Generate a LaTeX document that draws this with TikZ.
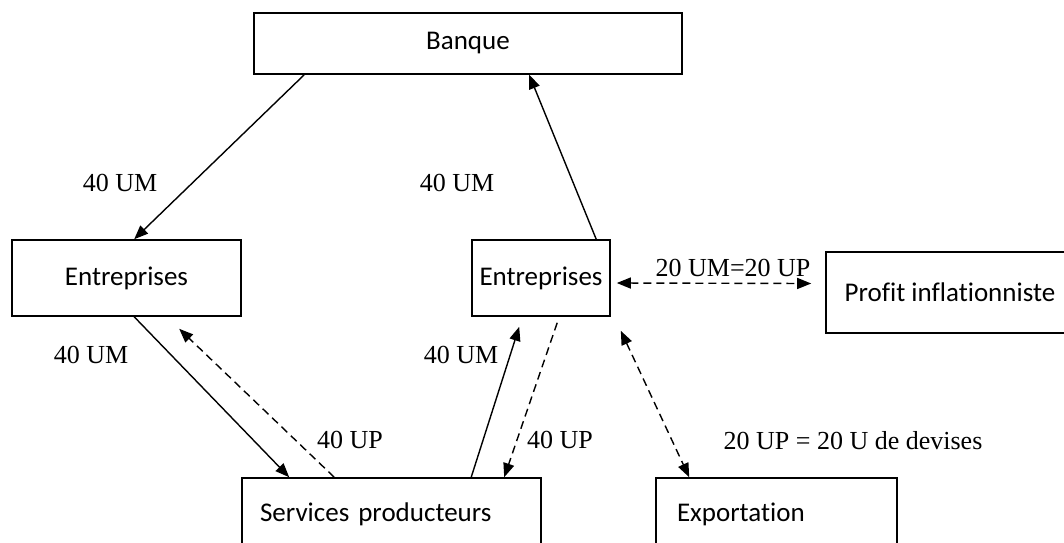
\documentclass[tikz,border=0pt]{standalone}
\usepackage{fontspec}
\setmainfont{Liberation Serif}
\newfontfamily\boxfont[Ligatures={NoCommon}]{Carlito}
\usetikzlibrary{
	positioning,
	calc,
	arrows.meta
}

\begin{document}
\begin{tikzpicture}[
		x=0.5pt, y=-0.5pt,
		line width=0.7pt,
		>={Triangle[length=7pt, width=5.5pt]},
		box/.style={draw, line width=0.8pt, font=\boxfont\fontsize{13.5}{16}\selectfont, inner sep=0pt},
		lbl/.style={font=\fontsize{13}{15}\selectfont, inner sep=0pt},
		flow/.style={dashed, dash pattern=on 4pt off 2.5pt}
		]
		\useasboundingbox (0,0) rectangle (1064,542);
		
		\node[box, minimum width=214pt, minimum height=30.5pt] (banque) at (468,43.5) {Banque};
		\node[box, minimum width=114.5pt, minimum height=38pt] (entL) at (126.5,278) {Entreprises};
		\node[box, minimum width=69pt, minimum height=38pt] (entR) at (541,278) {Entreprises};
		\node[box, minimum width=124pt, minimum height=40.5pt] (profit) at (950,292.5) {Profit inflationniste};
		\node[box, minimum width=149.5pt, minimum height=36pt, inner xsep=9pt, text width=131.5pt, align=left] (services) at (391.5,514) {Services producteurs};
		\node[box, minimum width=120.5pt, minimum height=36pt, inner xsep=10.5pt, text width=99.5pt, align=left] (export) at (776.5,514) {Exportation};
		
		\path ($(banque.south west)+(51,0)$) edge[->] ($(entL.north west)+(123,0)$);
		\path ($(entR.north west)+(125,0)$) edge[->] ($(banque.south west)+(276,0)$);
		\path ($(entL.south west)+(123,0)$) edge[->] ($(services.north west)+(48,0)$);
		\path ($(services.north west)+(93,0)$) edge[->, flow] ($(entL.south west)+(168,12)$);
		\path ($(services.north west)+(230,0)$) edge[->] ($(entR.south west)+(48,10)$);
		\path ($(entR.south west)+(86,6)$) edge[->, flow] ($(services.north west)+(263,0)$);
		\path ($(entR.east)+(6,5)$) edge[<->, flow] ($(profit.west)+(-14,-9)$);
		\path ($(entR.south east)+(10,14)$) edge[<->, flow] ($(export.north west)+(34,0)$);
		
		\node[lbl] (umA) at (120,183) {40 UM};
		\node[lbl] (umB) at (457,183) {40 UM};
		\node[lbl] (umC) at (91,355) {40 UM};
		\node[lbl] (umD) at (461,355) {40 UM};
		\node[lbl] (upA) at (350,440) {40 UP};
		\node[lbl] (upB) at (560,440) {40 UP};
		\node[lbl] (profitrate) at (733,268) {20 UM=20 UP};
		\node[lbl] (devises) at (853,441) {20 UP = 20 U de devises};
		
	\end{tikzpicture}
\end{document}
